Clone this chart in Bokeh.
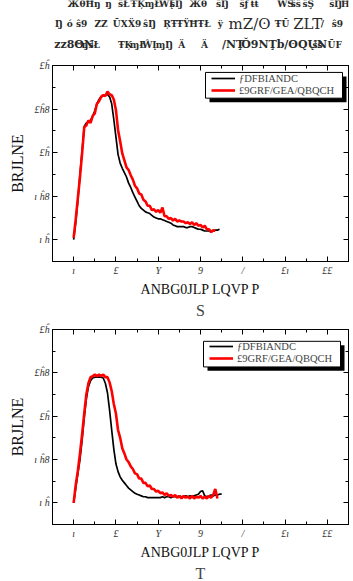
from bokeh.plotting import figure
from bokeh.layouts import column
from bokeh.models import (ColumnDataSource, Range1d, LinearAxis, FixedTicker, Legend,
                          LegendItem, Title)
from bokeh.core.properties import value
from bokeh.embed import file_html
from bokeh.resources import INLINE

# ---------------- data ----------------
time_min = [0.0, 0.1, 0.2, 0.3, 0.4, 0.5, 0.6, 0.7, 0.8, 0.9,
            1.0, 1.1, 1.2, 1.3, 1.4, 1.5, 1.6, 1.7, 1.8, 1.9,
            2.0, 2.1, 2.2, 2.3, 2.4, 2.5, 2.6, 2.7, 2.8, 2.9,
            3.0, 3.1, 3.2, 3.3, 3.4, 3.5, 3.6, 3.7, 3.8, 3.9,
            4.0, 4.1, 4.2, 4.3, 4.4, 4.5, 4.6, 4.7, 4.8, 4.9,
            5.0, 5.1, 5.2, 5.3, 5.4, 5.5, 5.6, 5.7, 5.8, 5.9,
            6.0, 6.1, 6.2, 6.3, 6.4, 6.5, 6.6, 6.7, 6.8, 6.9, 7.0]

a_black = [0.00, 0.20, 0.45, 0.75, 1.02, 1.30, 1.34, 1.35, 1.37, 1.42,
           1.48, 1.56, 1.61, 1.64, 1.65, 1.66, 1.67, 1.64, 1.56, 1.38,
           1.18, 0.98, 0.88, 0.82, 0.77, 0.72, 0.65, 0.60, 0.54, 0.49,
           0.44, 0.39, 0.36, 0.34, 0.32, 0.31, 0.30, 0.28, 0.26, 0.25,
           0.24, 0.24, 0.23, 0.22, 0.21, 0.20, 0.19, 0.17, 0.16, 0.15,
           0.15, 0.15, 0.15, 0.14, 0.14, 0.15, 0.15, 0.14, 0.13, 0.12,
           0.12, 0.11, 0.10, 0.10, 0.10, 0.09, 0.10, 0.11, 0.11, 0.12]

a_red = [0.02, 0.24, 0.48, 0.72, 0.99, 1.29, 1.31, 1.37, 1.34, 1.42,
         1.45, 1.56, 1.59, 1.64, 1.66, 1.65, 1.70, 1.67, 1.66, 1.61,
         1.49, 1.26, 1.13, 0.99, 0.91, 0.83, 0.80, 0.74, 0.69, 0.62,
         0.59, 0.53, 0.52, 0.46, 0.44, 0.39, 0.39, 0.34, 0.35, 0.32,
         0.34, 0.31, 0.37, 0.27, 0.27, 0.24, 0.25, 0.22, 0.24, 0.21,
         0.22, 0.21, 0.21, 0.19, 0.20, 0.18, 0.20, 0.17, 0.19, 0.16,
         0.17, 0.14, 0.16, 0.12, 0.12, 0.09, 0.11, 0.10]

b_black = [0.00, 0.17, 0.34, 0.50, 0.72, 0.98, 1.20, 1.34, 1.41, 1.44,
           1.45, 1.45, 1.45, 1.45, 1.44, 1.38, 1.27, 1.07, 0.84, 0.62,
           0.45, 0.36, 0.30, 0.26, 0.23, 0.20, 0.17, 0.15, 0.13, 0.11,
           0.10, 0.09, 0.08, 0.07, 0.07, 0.06, 0.06, 0.06, 0.06, 0.06,
           0.06, 0.06, 0.07, 0.06, 0.07, 0.07, 0.06, 0.07, 0.07, 0.07,
           0.08, 0.07, 0.07, 0.08, 0.07, 0.08, 0.08, 0.08, 0.09, 0.10,
           0.13, 0.14, 0.08, 0.07, 0.08, 0.09, 0.08, 0.09, 0.09, 0.10, 0.10]

b_red = [0.00, 0.21, 0.37, 0.57, 0.79, 1.03, 1.25, 1.38, 1.45, 1.46,
         1.48, 1.46, 1.48, 1.46, 1.48, 1.45, 1.45, 1.39, 1.29, 1.14,
         1.03, 0.84, 0.75, 0.63, 0.57, 0.50, 0.47, 0.42, 0.39, 0.34,
         0.33, 0.28, 0.28, 0.23, 0.23, 0.19, 0.20, 0.16, 0.16, 0.13,
         0.14, 0.11, 0.12, 0.09, 0.11, 0.08, 0.09, 0.07, 0.09, 0.06,
         0.08, 0.05, 0.08, 0.06, 0.07, 0.05, 0.08, 0.05, 0.07, 0.06,
         0.08, 0.05, 0.07, 0.05, 0.08, 0.06, 0.09, 0.16, 0.05]

x_ticks = [0, 2, 4, 6, 8, 10, 12]
x_tick_labels = ["ı", "£", "Y", "9", "/", "£ı", "££"]
x_minor_ticks = [-1, 1, 3, 5, 7, 9, 11, 13]
y_ticks = [0.0, 0.5, 1.0, 1.5, 2.0]
y_tick_labels = ["ı ĥ", "ı ĥ8", "£ĥ", "£ĥ8", "£ĥ"]
y_minor_ticks = [-0.25, 0.25, 0.75, 1.25, 1.75]
series_names = ["ƒDFBIANDC", "£9GRF/GEA/QBQCH"]
x_label = "ANBG0JLP LQVP P"
y_label = "BRJLNE"
panel_labels = ["S", "T"]

# header text (garbled caption)
hdr_words = ["ЖθĦŋ", "ŋ", "ŝŁ", "ŦĶ", "ɱŁ", "ŴĮ", "ŝŊ", "Жθ", "ŝŊ", "ŝƒ", "ŧŧ", "ŴŜ", "ŝŝ", "ŝŞ", "ŝŊ", "Ħ",
             "Ŋ", "ó", "ŝ9", "ZZ", "ŨX", "Ẍ9", "ŝŊ", "ŖŦ", "ŦŸ", "Ħ", "ŦŁ", "ÿ", "ŦŪ", "/", "ŝ9",
             "ŋ", "ŝŁ", "ŦĶ", "ɱŁ", "ŴĮ", "ɱŊ", "Ä", "Ä", "ŝŝ", "ŨF"]
hdr_x = [18, 63, 78, 93, 110, 127, 140, 163, 195, 223, 236, 268, 284, 298, 330, 344,
         3, 17, 28, 50, 72, 90, 108, 132, 148, 163, 173, 197, 265, 320, 333,
         35, 43, 78, 92, 107, 123, 150, 177, 310, 328]
hdr_y = [3] * 16 + [23] * 15 + [44] * 10
hdr_big_words = ["mZ/ʘ", "ZLT"]
hdr_big_x = [210, 287]
hdr_big_y = [23, 23]
hdr_mid_words = ["zz8ΘN", "/NŢ", "Ŏ9NŢb/ʘQŲN"]
hdr_mid_x = [2, 202, 225]
hdr_mid_y = [44, 44, 44]

HDR_FONT = "DejaVu Serif"
SERIF = "Liberation Serif"
W = 353
LEFT, RIGHT = 52, 5
XR, YR = (-1, 13), (-0.25, 2.0)

# ---------------- header ----------------
header = figure(width=W, height=50, x_range=Range1d(0, W), y_range=Range1d(50, 0),
                output_backend="svg", toolbar_location=None, x_axis_type=None,
                y_axis_type=None, min_border=0, outline_line_color=None)
header.grid.visible = False
header.text(x="x", y="y", text="t",
            source=ColumnDataSource(dict(x=hdr_x, y=hdr_y, t=hdr_words)),
            text_font=value(HDR_FONT), text_font_size="9px", text_font_style="bold",
            text_baseline="middle", text_color="#2a2a2a")
header.text(x="x", y="y", text="t",
            source=ColumnDataSource(dict(x=hdr_big_x, y=hdr_big_y, t=hdr_big_words)),
            text_font=value(HDR_FONT), text_font_size="15px",
            text_baseline="middle", text_color="#2a2a2a")
header.text(x="x", y="y", text="t",
            source=ColumnDataSource(dict(x=hdr_mid_x, y=hdr_mid_y, t=hdr_mid_words)),
            text_font=value(HDR_FONT), text_font_size="11px", text_font_style="bold",
            text_baseline="middle", text_color="#2a2a2a")


def style_axis(ax, show_labels):
    ax.major_tick_in = 5
    ax.major_tick_out = 0
    ax.minor_tick_in = 3
    ax.minor_tick_out = 0
    ax.axis_line_color = "black"
    ax.major_tick_line_color = "black"
    ax.minor_tick_line_color = "black"
    ax.major_label_text_font = SERIF
    ax.major_label_text_font_style = "italic"
    if show_labels:
        ax.major_label_text_color = "#333333"
        ax.major_label_text_font_size = "10px"
        ax.major_label_standoff = 3
    else:
        ax.major_label_text_color = None
        ax.major_label_text_font_size = "1px"
        ax.major_label_standoff = 0


# legend box geometry (pixels)
BOX_W, BOX_H, SHADOW = 137, 26, 4


def make_panel(y_black, y_red, height, b_top, b_bottom, label, label_off, box_pos):
    p = figure(width=W, height=height, x_range=Range1d(*XR), y_range=Range1d(*YR),
               output_backend="svg", toolbar_location=None,
               min_border_left=LEFT, min_border_right=RIGHT, min_border_top=b_top,
               min_border_bottom=b_bottom)
    p.grid.visible = False
    p.outline_line_color = "black"
    xt = FixedTicker(ticks=x_ticks, minor_ticks=x_minor_ticks)
    yt = FixedTicker(ticks=y_ticks, minor_ticks=y_minor_ticks)
    p.xaxis.ticker = xt
    p.yaxis.ticker = yt
    p.xaxis.major_label_overrides = dict(zip(x_ticks, x_tick_labels))
    p.yaxis.major_label_overrides = dict(zip(y_ticks, y_tick_labels))
    for ax in p.xaxis + p.yaxis:
        style_axis(ax, True)
    p.xaxis.axis_label = x_label
    p.yaxis.axis_label = y_label
    for ax in p.xaxis + p.yaxis:
        ax.axis_label_text_font = SERIF
        ax.axis_label_text_font_style = "normal"
        ax.axis_label_text_color = "#111111"
    p.xaxis.axis_label_text_font_size = "14px"
    p.yaxis.axis_label_text_font_size = "16px"
    p.xaxis.axis_label_standoff = 3
    p.yaxis.axis_label_standoff = 5
    top = LinearAxis(ticker=xt)
    right = LinearAxis(ticker=yt)
    style_axis(top, False)
    style_axis(right, False)
    p.add_layout(top, "above")
    p.add_layout(right, "right")

    # legend frame with drop shadow, drawn as glyphs (frame-pixel -> data)
    fw = W - LEFT - RIGHT
    fh = height - b_top - b_bottom
    bx, by = box_pos

    def dx(px):
        return XR[0] + px * (XR[1] - XR[0]) / fw

    def dy(py):
        return YR[0] + py * (YR[1] - YR[0]) / fh

    p.quad(left=[dx(bx + SHADOW)], right=[dx(bx + BOX_W + SHADOW)],
           bottom=[dy(by - SHADOW)], top=[dy(by + BOX_H - SHADOW)],
           fill_color="black", line_color=None)
    p.quad(left=[dx(bx)], right=[dx(bx + BOX_W)],
           bottom=[dy(by)], top=[dy(by + BOX_H)],
           fill_color="white", line_color="black", line_width=1)

    rb = p.line(time_min[:len(y_black)], y_black, line_color="black", line_width=1.7)
    rr = p.line(time_min[:len(y_red)], y_red, line_color="#ff0000", line_width=2.6)

    leg = Legend(items=[LegendItem(label=series_names[0], renderers=[rb]),
                        LegendItem(label=series_names[1], renderers=[rr])],
                 location=(bx + 6, by), orientation="vertical")
    leg.border_line_color = None
    leg.background_fill_alpha = 0.0
    leg.padding = 1
    leg.spacing = 0
    leg.margin = 0
    leg.glyph_width = 24
    leg.glyph_height = 12
    leg.label_height = 12
    leg.label_standoff = 4
    leg.label_text_font = SERIF
    leg.label_text_font_size = "10.5px"
    leg.label_text_line_height = 1.0
    p.add_layout(leg)

    p.add_layout(Title(text=label, align="center", offset=label_off,
                       text_font=SERIF, text_font_size="16px", text_font_style="normal",
                       standoff=0), "below")
    return p


p1 = make_panel(a_black, a_red, 268, 15, 55, panel_labels[0], 5, (153, 165))
p2 = make_panel(b_black, b_red, 263, 11, 54, panel_labels[1], 2, (151, 160))

layout = column(header, p1, p2, spacing=0)
open("out.html", "w").write(file_html(layout, INLINE))
